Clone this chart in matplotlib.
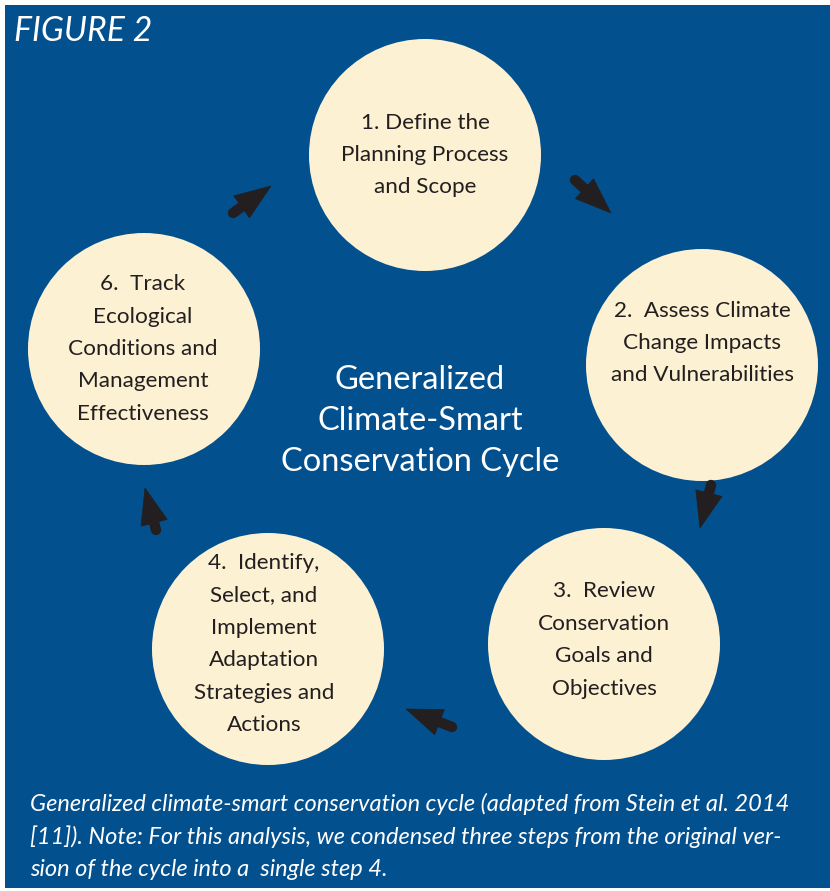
import matplotlib.pyplot as plt
import numpy as np
from matplotlib.patches import Circle, Rectangle, Polygon

plt.rcParams['font.family'] = ['Lato', 'DejaVu Sans']

# 各步骤文字
steps = [
    '1. Define the\nPlanning Process\nand Scope',
    '2.  Assess Climate\nChange Impacts\nand Vulnerabilities',
    '3.  Review\nConservation\nGoals and\nObjectives',
    '4.  Identify,\nSelect, and\nImplement\nAdaptation\nStrategies and\nActions',
    '6.  Track\nEcological\nConditions and\nManagement\nEffectiveness',
]
center_title = 'Generalized\nClimate-Smart\nConservation Cycle'
fig_label = 'FIGURE 2'
caption = ('Generalized climate-smart conservation cycle (adapted from Stein et al. 2014\n'
           '[11]). Note: For this analysis, we condensed three steps from the original ver-\n'
           'sion of the cycle into a  single step 4.')

# 圆心 (像素坐标)
cx = [425, 702, 604, 268, 144]
cy = [155, 365, 644, 649, 349]
r = 116
text_x = [425, 702, 604, 264, 143]
text_y = [155, 343, 640, 644, 349]

# 箭头: 尾部 -> 尖端
arrow_tail = [(233, 213), (575, 180), (711, 485), (452, 727), (156, 530)]
arrow_tip = [(271, 186), (611, 213), (700, 528), (406, 709), (145, 488)]

blue = '#03508E'
cream = '#FDF1D3'
dark = '#231F20'

fig = plt.figure(figsize=(8.3, 8.91), dpi=100)
ax = fig.add_axes([0, 0, 1, 1])
ax.set_xlim(0, 830)
ax.set_ylim(891, 0)
ax.axis('off')

ax.add_patch(Rectangle((5, 5), 825, 883, facecolor=blue, edgecolor='none'))

for i in range(len(steps)):
    ax.add_patch(Circle((cx[i], cy[i]), r, facecolor=cream, edgecolor='none'))
    ax.text(text_x[i], text_y[i], steps[i], ha='center', va='center',
            fontsize=16.2, color=dark, linespacing=1.78)

# 箭头
for (x0, y0), (x1, y1) in zip(arrow_tail, arrow_tip):
    d = np.array([x1 - x0, y1 - y0], dtype=float)
    d /= np.hypot(*d)
    n = np.array([-d[1], d[0]])
    tip = np.array([x1, y1], dtype=float)
    base = tip - 36 * d
    head = [tip, base + 13.5 * n, base - 13.5 * n]
    ax.add_patch(Polygon(head, closed=True, facecolor=dark, edgecolor=dark, lw=0.5))
    ax.plot([x0, base[0]], [y0, base[1]], color=dark, lw=7.5, solid_capstyle='round')

ax.text(420, 421, center_title, ha='center', va='center', fontsize=23.5,
        color='white', linespacing=1.47)

ax.text(14, 31, fig_label, ha='left', va='center', fontsize=24.3,
        color='white', style='italic')

ax.text(30, 836, caption, ha='left', va='center', fontsize=17.0,
        color='white', style='italic', linespacing=1.6)

fig.savefig('out.png', dpi=100, facecolor='white')
